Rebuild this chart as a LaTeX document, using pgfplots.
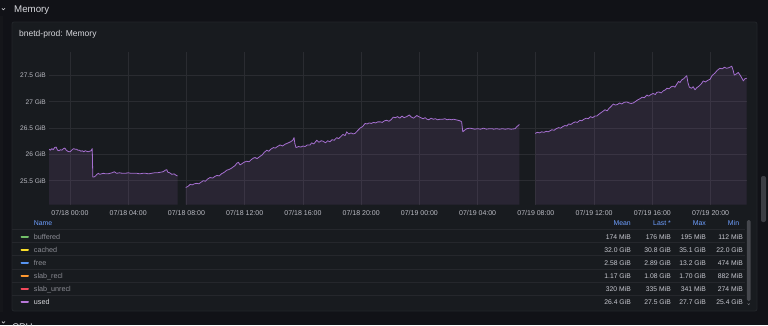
\documentclass[border=0pt]{standalone}
\usepackage{fontspec}
\setmainfont{Liberation Sans}
\usepackage{pgfplots}
\usepackage{pgfplotstable}
\pgfplotsset{compat=1.18}
\definecolor{pagebg}{HTML}{111217}
\definecolor{stripc}{HTML}{15161A}
\definecolor{panelbg}{HTML}{181B1F}
\definecolor{panelborder}{HTML}{22252A}
\definecolor{gridc}{HTML}{2A2C31}
\definecolor{txt}{HTML}{D8D9DE}
\definecolor{tickc}{HTML}{BBBCC4}
\definecolor{dimc}{HTML}{8C8D95}
\definecolor{valc}{HTML}{C8C9D1}
\definecolor{hdr}{HTML}{6E9FFF}
\definecolor{sepc}{HTML}{25272C}
\definecolor{usedc}{HTML}{B877D9}
\definecolor{linec}{HTML}{A56FD0}
\definecolor{bufc}{HTML}{73BF69}
\definecolor{cachc}{HTML}{FADE2A}
\definecolor{freec}{HTML}{5794F2}
\definecolor{reclc}{HTML}{FF9830}
\definecolor{unrecc}{HTML}{F2495C}
\definecolor{scrollc}{HTML}{45474D}
\definecolor{scrollo}{HTML}{3C3E44}
\newcommand{\fs}[1]{\fontsize{#1}{#1}\selectfont}

\pgfplotstableread{
h v
-1.44 26.10
-1.35 26.08
-1.25 26.11
-1.15 26.09
-1.05 26.13
-0.95 26.14
-0.85 26.08
-0.75 26.07
-0.65 26.09
-0.55 26.08
-0.45 26.11
-0.35 26.12
-0.25 26.08
-0.15 26.06
-0.05 26.05
0.05 26.06
0.15 26.09
0.25 26.11
0.35 26.10
0.45 26.10
0.55 26.08
0.65 26.08
0.75 26.06
0.85 26.07
0.95 26.05
1.05 26.07
1.15 26.06
1.25 26.05
1.35 26.06
1.45 26.07
1.53 26.11
1.57 25.57
1.65 25.57
1.75 25.59
1.85 25.62
1.95 25.64
2.05 25.62
2.15 25.63
2.30 25.64
2.45 25.63
2.60 25.63
2.75 25.64
2.90 25.65
3.05 25.67
3.20 25.64
3.40 25.65
3.60 25.64
3.80 25.64
4.00 25.65
4.20 25.64
4.40 25.64
4.60 25.64
4.80 25.63
5.00 25.64
5.20 25.64
5.40 25.63
5.60 25.64
5.80 25.65
6.00 25.65
6.20 25.66
6.40 25.67
6.55 25.70
6.65 25.71
6.72 25.66
6.85 25.65
7.00 25.62
7.15 25.63
7.30 25.60
7.39 25.59
}\segA

\pgfplotstableread{
h v
7.95 25.37
8.10 25.39
8.26 25.43
8.40 25.42
8.55 25.44
8.71 25.45
8.85 25.44
9.00 25.47
9.16 25.50
9.30 25.49
9.45 25.53
9.62 25.56
9.80 25.55
9.95 25.58
10.10 25.60
10.25 25.59
10.40 25.63
10.60 25.66
10.77 25.70
10.90 25.71
11.05 25.73
11.20 25.76
11.35 25.79
11.45 25.83
11.57 25.85
11.68 25.80
11.80 25.82
11.95 25.85
12.14 25.87
12.30 25.86
12.45 25.90
12.60 25.93
12.71 25.94
12.85 25.92
13.04 25.96
13.20 25.99
13.35 26.04
13.52 26.08
13.65 26.06
13.80 26.10
13.97 26.13
14.10 26.12
14.25 26.15
14.43 26.18
14.60 26.16
14.75 26.19
14.90 26.21
15.00 26.22
15.15 26.24
15.30 26.27
15.39 26.32
15.45 26.20
15.53 26.13
15.70 26.15
15.85 26.14
16.00 26.16
16.15 26.15
16.30 26.18
16.49 26.18
16.60 26.22
16.75 26.20
16.95 26.27
17.10 26.23
17.25 26.26
17.40 26.25
17.55 26.22
17.70 26.26
17.86 26.24
18.00 26.28
18.15 26.27
18.32 26.32
18.45 26.30
18.60 26.34
18.75 26.38
18.90 26.36
19.01 26.43
19.15 26.39
19.30 26.41
19.45 26.39
19.58 26.40
19.75 26.45
19.92 26.50
20.10 26.53
20.27 26.59
20.40 26.58
20.55 26.60
20.70 26.59
20.85 26.61
21.00 26.60
21.15 26.62
21.30 26.62
21.45 26.61
21.60 26.64
21.76 26.65
21.90 26.63
22.05 26.66
22.21 26.71
22.35 26.70
22.50 26.72
22.65 26.69
22.80 26.73
22.95 26.70
23.13 26.72
23.30 26.75
23.45 26.71
23.60 26.69
23.82 26.74
23.95 26.72
24.10 26.70
24.25 26.68
24.40 26.70
24.51 26.67
24.65 26.66
24.80 26.69
24.95 26.67
25.10 26.68
25.25 26.66
25.42 26.67
25.60 26.67
25.75 26.68
25.90 26.66
26.05 26.67
26.20 26.66
26.35 26.67
26.50 26.66
26.65 26.65
26.79 26.64
26.90 26.62
26.98 26.43
27.10 26.46
27.25 26.49
27.48 26.50
27.65 26.49
27.80 26.48
28.00 26.49
28.20 26.48
28.40 26.50
28.60 26.48
28.80 26.49
29.00 26.49
29.08 26.48
29.30 26.49
29.50 26.48
29.70 26.49
29.90 26.48
30.10 26.49
30.30 26.48
30.57 26.49
30.70 26.53
30.87 26.57
}\segB

\pgfplotstableread{
h v
31.96 26.40
32.10 26.42
32.25 26.41
32.40 26.43
32.55 26.42
32.70 26.44
32.85 26.43
32.97 26.45
33.10 26.47
33.25 26.46
33.40 26.49
33.55 26.51
33.70 26.50
33.85 26.53
34.00 26.55
34.12 26.54
34.25 26.58
34.40 26.57
34.55 26.60
34.70 26.62
34.85 26.61
35.03 26.65
35.15 26.64
35.30 26.67
35.45 26.69
35.60 26.68
35.75 26.72
35.90 26.70
36.05 26.73
36.18 26.73
36.30 26.76
36.45 26.79
36.60 26.82
36.75 26.85
36.90 26.83
37.00 26.87
37.15 26.91
37.32 26.96
37.45 26.94
37.60 26.95
37.75 26.98
37.90 26.96
38.05 26.99
38.24 27.00
38.40 26.98
38.55 26.97
38.69 26.98
38.85 27.01
39.00 27.04
39.15 27.06
39.30 27.09
39.45 27.08
39.62 27.13
39.75 27.11
39.90 27.14
40.05 27.16
40.20 27.14
40.30 27.18
40.45 27.19
40.60 27.17
40.75 27.21
40.90 27.23
40.99 27.26
41.15 27.25
41.30 27.29
41.45 27.30
41.55 27.28
41.68 27.34
41.80 27.39
41.90 27.37
42.02 27.42
42.15 27.44
42.25 27.47
42.36 27.50
42.45 27.36
42.54 27.28
42.70 27.26
42.80 27.29
42.93 27.23
43.05 27.27
43.20 27.30
43.35 27.34
43.50 27.40
43.65 27.38
43.80 27.41
43.96 27.43
44.10 27.50
44.30 27.55
44.45 27.60
44.64 27.64
44.80 27.63
44.95 27.66
45.10 27.64
45.25 27.65
45.45 27.68
45.55 27.60
45.63 27.51
45.75 27.53
45.90 27.56
46.05 27.50
46.25 27.40
46.35 27.44
46.48 27.45
}\segC

\begin{document}
\begin{tikzpicture}
\clip (0pt,0pt) rectangle (768pt,-325pt);
\begin{scope}[x=1pt,y=-1pt]
\fill[pagebg] (0,0) rectangle (768,325);
\fill[stripc] (0,16) rectangle (3.2,312);
% section header
\draw[txt, line width=0.6pt, line cap=round, line join=round] (2,8.4) -- (3.4,9.9) -- (4.8,8.4);
\node[anchor=base west, inner sep=0, text=txt] at (14,12.3) {\fs{9.7}Memory};
% panel
\filldraw[fill=panelbg, draw=panelborder, line width=0.8pt, rounded corners=2pt] (12,22) rectangle (757,311);
\node[anchor=base west, inner sep=0, text=txt] at (19,36.7) {\fs{8.5}bnetd-prod: Memory};
\end{scope}

\begin{axis}[
  at={(49pt,-204.5pt)}, anchor=south west, scale only axis,
  width=698pt, height=152.5pt,
  xmin=-1.44, xmax=46.5, ymin=25.046, ymax=27.95,
  axis line style={draw=none}, major tick length=0pt,
  xtick={0,4,...,44},
  xticklabels={07/18 00:00,07/18 04:00,07/18 08:00,07/18 12:00,07/18 16:00,07/18 20:00,07/19 00:00,07/19 04:00,07/19 08:00,07/19 12:00,07/19 16:00,07/19 20:00},
  ytick={25.5,26,26.5,27,27.5},
  yticklabels={25.5 GiB,26 GiB,26.5 GiB,27 GiB,27.5 GiB},
  grid=major, grid style={gridc, line width=0.8pt},
  xticklabel style={font=\fs{7.0}, text=tickc, inner sep=0pt, anchor=north, yshift=-6.2pt},
  yticklabel style={font=\fs{6.6}, text=tickc, inner sep=0pt, anchor=east, xshift=-3pt},
]
\addplot[draw=none, fill=usedc, fill opacity=0.11] table[x=h,y=v] {\segA} \closedcycle;
\addplot[draw=none, fill=usedc, fill opacity=0.11] table[x=h,y=v] {\segB} \closedcycle;
\addplot[draw=none, fill=usedc, fill opacity=0.11] table[x=h,y=v] {\segC} \closedcycle;
\addplot[linec, line width=0.8pt, line join=round, mark=none] table[x=h,y=v] {\segA};
\addplot[linec, line width=0.8pt, line join=round, mark=none] table[x=h,y=v] {\segB};
\addplot[linec, line width=0.8pt, line join=round, mark=none] table[x=h,y=v] {\segC};
\end{axis}

\begin{scope}[x=1pt,y=-1pt]
% legend table
\foreach \yy in {229,242.3,255.7,269,282.3,295.7} {\draw[sepc, line width=0.8pt] (12,\yy) -- (745,\yy);}
\node[anchor=base west, inner sep=0, text=hdr] at (33.7,225.5) {\fs{6.9}Name};
\node[anchor=base east, inner sep=0, text=hdr] at (631,225.5) {\fs{6.9}Mean};
\node[anchor=base east, inner sep=0, text=hdr] at (671,225.5) {\fs{6.9}Last *};
\node[anchor=base east, inner sep=0, text=hdr] at (706,225.5) {\fs{6.9}Max};
\node[anchor=base east, inner sep=0, text=hdr] at (739.3,225.5) {\fs{6.9}Min};
\foreach \c/\nm/\tc/\yc/\va/\vb/\vc/\vd in {
  bufc/buffered/dimc/236.7/174 MiB/176 MiB/195 MiB/112 MiB,
  cachc/cached/dimc/249.7/32.0 GiB/30.8 GiB/35.1 GiB/22.0 GiB,
  freec/free/dimc/262.7/2.58 GiB/2.89 GiB/13.2 GiB/474 MiB,
  reclc/slab\_recl/dimc/276/1.17 GiB/1.08 GiB/1.70 GiB/882 MiB,
  unrecc/slab\_unrecl/dimc/289.3/320 MiB/335 MiB/341 MiB/274 MiB,
  usedc/used/txt/302.3/26.4 GiB/27.5 GiB/27.7 GiB/25.4 GiB} {
  \draw[\c, line width=2pt, line cap=round] (21.5,\yc) -- (28,\yc);
  \node[anchor=base west, inner sep=0, text=\tc] at (33.7,\yc+2.5) {\fs{7.2}\nm};
  \node[anchor=base east, inner sep=0, text=valc] at (631,\yc+2.5) {\fs{6.8}\va};
  \node[anchor=base east, inner sep=0, text=valc] at (671,\yc+2.5) {\fs{6.8}\vb};
  \node[anchor=base east, inner sep=0, text=valc] at (706,\yc+2.5) {\fs{6.8}\vc};
  \node[anchor=base east, inner sep=0, text=valc] at (743,\yc+2.5) {\fs{6.8}\vd};
}
% scrollbars
\fill[scrollc, rounded corners=1.5pt] (746.8,220) rectangle (750.6,301);
\draw[dimc, line width=0.4pt] (747.6,303.5) -- (748.7,304.6) -- (749.8,303.5);
\fill[scrollo, rounded corners=2pt] (761,176) rectangle (766,222);
% next section header
\draw[txt, line width=0.6pt, line cap=round, line join=round] (2,321.6) -- (3.4,323.1) -- (4.8,321.6);
\node[anchor=base west, inner sep=0, text=txt] at (12,330) {\fs{9.7}CPU};
\end{scope}
\end{tikzpicture}
\end{document}
